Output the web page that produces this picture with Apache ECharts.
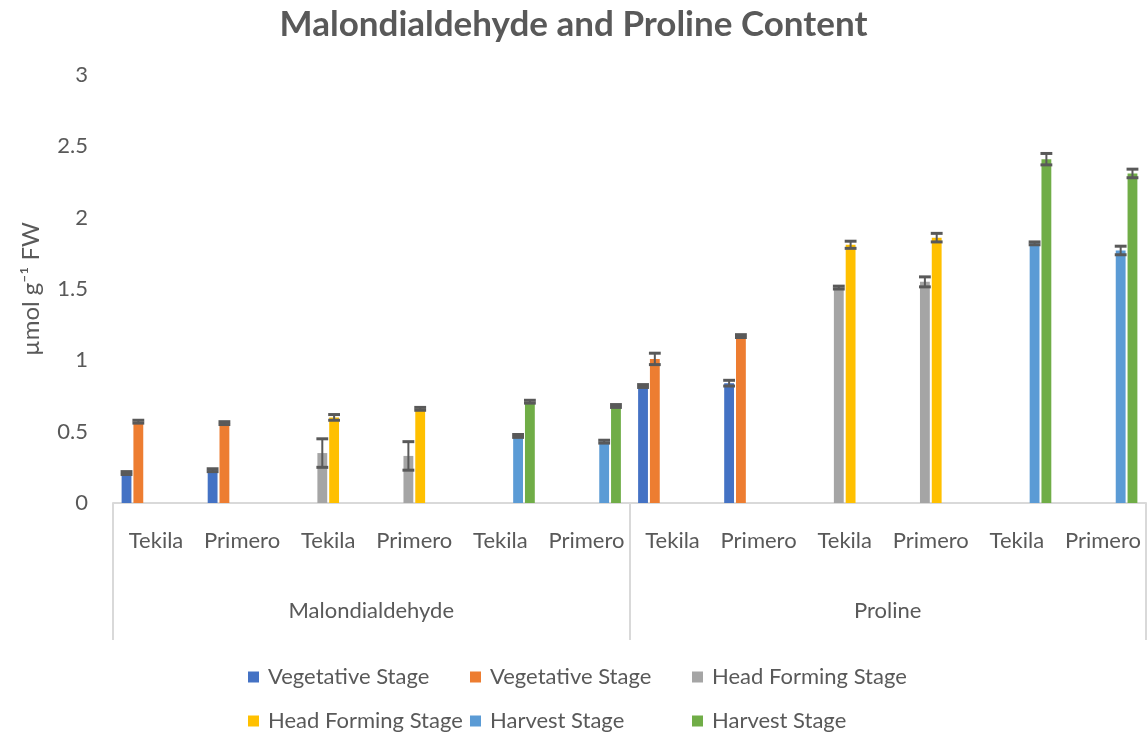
<!DOCTYPE html>
<html>
<head>
<meta charset="utf-8">
<script src="https://cdn.jsdelivr.net/npm/echarts@6/dist/echarts.min.js"></script>
<style>
  html, body { margin: 0; padding: 0; background: #fff; }
  #main { width: 1147px; height: 737px; }
</style>
</head>
<body>
<div id="main"></div>
<script>
// categories
var cultivars = ['Tekila', 'Primero', 'Tekila', 'Primero', 'Tekila', 'Primero',
                 'Tekila', 'Primero', 'Tekila', 'Primero', 'Tekila', 'Primero'];
var groups = ['Malondialdehyde', 'Proline'];
var seriesNames = ['Vegetative Stage', 'Vegetative Stage', 'Head Forming Stage',
                   'Head Forming Stage', 'Harvest Stage', 'Harvest Stage'];
var colors = ['#4472C4', '#ED7D31', '#A5A5A5', '#FFC000', '#5B9BD5', '#70AD47'];

// values (µmol g-1 FW)
var vegA   = [0.21, 0.23, null, null, null, null, 0.82, 0.84, null, null, null, null];
var vegB   = [0.57, 0.56, null, null, null, null, 1.01, 1.17, null, null, null, null];
var headA  = [null, null, 0.35, 0.33, null, null, null, null, 1.51, 1.55, null, null];
var headB  = [null, null, 0.60, 0.66, null, null, null, null, 1.81, 1.86, null, null];
var harvA  = [null, null, null, null, 0.47, 0.43, null, null, null, null, 1.82, 1.77];
var harvB  = [null, null, null, null, 0.71, 0.68, null, null, null, null, 2.41, 2.31];

// error bars (±)
var vegAErr  = [0.01, 0.01, null, null, null, null, 0.01, 0.02, null, null, null, null];
var vegBErr  = [0.01, 0.01, null, null, null, null, 0.04, 0.01, null, null, null, null];
var headAErr = [null, null, 0.10, 0.10, null, null, null, null, 0.01, 0.035, null, null];
var headBErr = [null, null, 0.02, 0.01, null, null, null, null, 0.025, 0.03, null, null];
var harvAErr = [null, null, null, null, 0.01, 0.01, null, null, null, null, 0.01, 0.03];
var harvBErr = [null, null, null, null, 0.01, 0.01, null, null, null, null, 0.04, 0.03];

var yTicks = [0, 0.5, 1, 1.5, 2, 2.5, 3];

var values = [vegA, vegB, headA, headB, harvA, harvB];
var errors = [vegAErr, vegBErr, headAErr, headBErr, harvAErr, harvBErr];

var font = 'Lato';
var textColor = '#595959';
var nBars = values.length;

function errorSeries(k) {
  var data = [];
  values[k].forEach(function (v, i) {
    if (v != null) data.push([i, v, errors[k][i]]);
  });
  return {
    type: 'custom',
    z: 5,
    silent: true,
    data: data,
    encode: { x: 0, y: 1 },
    renderItem: function (params, api) {
      var i = api.value(0), v = api.value(1), e = api.value(2);
      var band = api.size([1, 0])[0];
      var gw = band * 0.8;
      var bw = gw / (nBars + (nBars - 1) * 0.2);
      var off = -gw / 2 + bw / 2 + k * bw * 1.2;
      var top = api.coord([i, v + e]);
      var bot = api.coord([i, v - e]);
      var x = top[0] + off;
      var half = bw / 2 + 1;
      var st = { stroke: '#595959', lineWidth: 2 };
      var cap = { stroke: '#595959', lineWidth: 3 };
      return {
        type: 'group',
        children: [
          { type: 'line', shape: { x1: x, y1: top[1], x2: x, y2: bot[1] }, style: st },
          { type: 'line', shape: { x1: x - half, y1: top[1], x2: x + half, y2: top[1] }, style: cap },
          { type: 'line', shape: { x1: x - half, y1: bot[1], x2: x + half, y2: bot[1] }, style: cap }
        ]
      };
    }
  };
}

var series = [];
values.forEach(function (v, k) {
  series.push({
    name: seriesNames[k] + ' #' + (k + 1),
    type: 'bar',
    data: v,
    barGap: '20%',
    barCategoryGap: '20%',
    itemStyle: { color: colors[k] }
  });
});
values.forEach(function (v, k) {
  series.push(errorSeries(k));
});

var legendPos = [[248, 666], [470, 666], [692, 666], [248, 710], [470, 710], [692, 710]];
var legends = legendPos.map(function (p, k) {
  return {
    left: p[0],
    top: p[1],
    padding: 0,
    itemWidth: 11,
    itemHeight: 11,
    itemGap: 0,
    icon: 'rect',
    selectedMode: false,
    data: [seriesNames[k] + ' #' + (k + 1)],
    formatter: function (n) { return n.replace(/ #\d$/, ''); },
    textStyle: { fontFamily: font, fontSize: 22, color: textColor, padding: [0, 0, 0, 4] }
  };
});

var myChart = echarts.init(document.getElementById('main'));

var option = {
  backgroundColor: '#fff',
  animation: false,
  color: colors,
  title: {
    text: 'Malondialdehyde and Proline Content',
    left: 'center',
    top: 2,
    textStyle: { fontFamily: font, fontSize: 35, fontWeight: 'bold', color: textColor }
  },
  legend: legends,
  grid: { left: 113, right: 1, top: 75, bottom: 234, containLabel: false },
  xAxis: [{
    type: 'category',
    data: cultivars,
    axisLine: { lineStyle: { color: '#d9d9d9', width: 2 } },
    axisTick: { show: false },
    axisLabel: { interval: 0, margin: 27, fontFamily: font, fontSize: 22, color: textColor }
  }, {
    type: 'category',
    position: 'bottom',
    data: groups,
    axisLine: { show: false },
    axisTick: { show: true, length: 137, lineStyle: { color: '#d9d9d9', width: 2 } },
    axisLabel: { margin: 97, fontFamily: font, fontSize: 22, color: textColor }
  }],
  yAxis: {
    type: 'value',
    min: 0,
    max: 3,
    interval: 0.5,
    name: 'µmol g⁻¹ FW',
    nameLocation: 'middle',
    nameGap: 70,
    nameTextStyle: { fontFamily: font, fontSize: 24, color: textColor },
    axisLine: { show: false },
    axisTick: { show: false },
    splitLine: { show: false },
    axisLabel: {
      margin: 25,
      fontFamily: font,
      fontSize: 22,
      color: textColor,
      formatter: function (v) { return yTicks.indexOf(v) >= 0 ? String(v) : ''; }
    }
  },
  series: series
};

myChart.setOption(option);
</script>
</body>
</html>
